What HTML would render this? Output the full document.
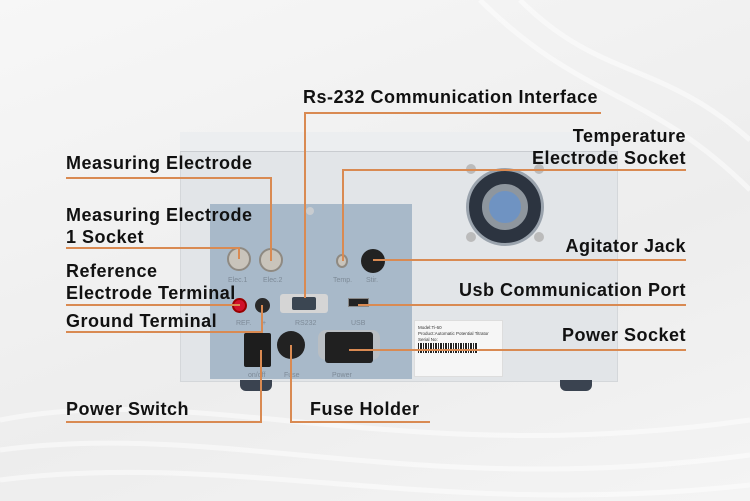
<!DOCTYPE html>
<html><head><meta charset="utf-8"><style>
body{margin:0;width:750px;height:501px;overflow:hidden;background:linear-gradient(160deg,#f7f7f7,#ededed 60%,#f4f4f4);font-family:"Liberation Sans",sans-serif;position:relative}
div{position:absolute;box-sizing:border-box}
.t{font-weight:bold;font-size:18px;letter-spacing:0.5px;color:#111;line-height:22px;white-space:nowrap}
.h{height:2px;background:#d98a52}
.v{width:2px;background:#d98a52}
.s{font-size:7px;color:#7d8a97}
</style></head><body>
<svg width="750" height="501" style="position:absolute;left:0;top:0" fill="none" stroke="#fff" stroke-width="5" opacity="0.5">
<path d="M0 420 C200 380 400 470 750 420"/><path d="M0 450 C220 420 420 500 750 455"/><path d="M0 480 C230 450 440 520 750 485"/>
<path d="M520 0 C600 80 660 60 750 140"/><path d="M480 0 C580 100 650 90 750 190"/>
</svg>
<!-- device -->
<div style="left:180px;top:132px;width:438px;height:250px;background:#e2e5e8;border:1px solid #d4d7da"></div>
<div style="left:180px;top:132px;width:438px;height:20px;background:#eceef0;border-bottom:1px solid #c9ccd0"></div>
<div style="left:240px;top:380px;width:32px;height:11px;background:#3a4350;border-radius:0 0 6px 6px"></div>
<div style="left:560px;top:380px;width:32px;height:11px;background:#3a4350;border-radius:0 0 6px 6px"></div>
<!-- fan -->
<div style="left:466px;top:168px;width:78px;height:78px;border-radius:50%;background:#2c3440;border:3px solid #9aa3ad"></div>
<div style="left:482px;top:184px;width:46px;height:46px;border-radius:50%;background:#6f93c2;border:7px solid #8e969e"></div>
<div style="left:466px;top:164px;width:10px;height:10px;border-radius:50%;background:#bbb"></div>
<div style="left:534px;top:164px;width:10px;height:10px;border-radius:50%;background:#bbb"></div>
<div style="left:466px;top:232px;width:10px;height:10px;border-radius:50%;background:#bbb"></div>
<div style="left:534px;top:232px;width:10px;height:10px;border-radius:50%;background:#bbb"></div>
<!-- panel -->
<div style="left:210px;top:204px;width:202px;height:175px;background:#a8b9c9"></div>
<div style="left:306px;top:207px;width:8px;height:8px;border-radius:50%;background:#c8ccd0"></div>
<div style="left:227px;top:247px;width:24px;height:24px;border-radius:50%;background:#c9c4bb;border:2px solid #8f8a82"></div>
<div style="left:259px;top:248px;width:24px;height:24px;border-radius:50%;background:#c9c4bb;border:2px solid #8f8a82"></div>
<div style="left:336px;top:254px;width:12px;height:14px;border-radius:50%;background:#c9c4bb;border:2px solid #8f8a82"></div>
<div style="left:361px;top:249px;width:24px;height:24px;border-radius:50%;background:#222"></div>
<div class="s" style="left:228px;top:277px">Elec.1</div><div class="s" style="left:263px;top:277px">Elec.2</div>
<div class="s" style="left:333px;top:277px">Temp.</div><div class="s" style="left:366px;top:277px">Stir.</div>
<div style="left:232px;top:298px;width:15px;height:15px;border-radius:50%;background:#d0102a;border:2px solid #900"></div>
<div style="left:255px;top:298px;width:15px;height:15px;border-radius:50%;background:#2a2a2a"></div>
<div style="left:280px;top:294px;width:48px;height:19px;background:#d5d5d5;border-radius:3px"></div>
<div style="left:292px;top:297px;width:24px;height:13px;background:#3b4652;border-radius:2px"></div>
<div style="left:348px;top:298px;width:21px;height:9px;background:#222;border:1px solid #888"></div>
<div class="s" style="left:236px;top:320px">REF.</div><div class="s" style="left:262px;top:320px">+</div>
<div class="s" style="left:295px;top:320px">RS232</div><div class="s" style="left:351px;top:320px">USB</div>
<div style="left:244px;top:333px;width:27px;height:34px;background:#1d1d1d;border-radius:2px"></div>
<div style="left:277px;top:331px;width:28px;height:28px;border-radius:50%;background:#222"></div>
<div style="left:318px;top:330px;width:62px;height:30px;background:#b9bec3;border-radius:8px"></div>
<div style="left:325px;top:332px;width:48px;height:31px;background:#202020;border-radius:3px"></div>
<div class="s" style="left:248px;top:372px">on/off</div><div class="s" style="left:284px;top:372px">Fuse</div><div class="s" style="left:332px;top:372px">Power</div>
<div style="left:414px;top:320px;width:89px;height:57px;background:#f6f6f6;border:1px solid #ddd;font-size:4.5px;line-height:6px;color:#333;padding:4px 3px">Model:Ti-60<br>Product:Automatic Potential Titrator<br>Serial No:<br><span style="display:inline-block;width:60px;height:10px;background:repeating-linear-gradient(90deg,#222 0 1px,#fff 1px 2px,#222 2px 4px,#fff 4px 5px)"></span></div>
<!-- lines -->
<div class="h" style="left:304px;top:112px;width:297px"></div><div class="v" style="left:304px;top:112px;height:186px"></div>
<div class="h" style="left:66px;top:177px;width:206px"></div><div class="v" style="left:270px;top:177px;height:84px"></div>
<div class="h" style="left:66px;top:247px;width:174px"></div><div class="v" style="left:238px;top:247px;height:12px"></div>
<div class="h" style="left:66px;top:304px;width:174px"></div>
<div class="h" style="left:66px;top:331px;width:197px"></div><div class="v" style="left:261px;top:305px;height:28px"></div>
<div class="h" style="left:66px;top:421px;width:196px"></div><div class="v" style="left:260px;top:350px;height:73px"></div>
<div class="h" style="left:290px;top:421px;width:140px"></div><div class="v" style="left:290px;top:345px;height:78px"></div>
<div class="h" style="left:342px;top:169px;width:344px"></div><div class="v" style="left:342px;top:169px;height:92px"></div>
<div class="h" style="left:373px;top:259px;width:313px"></div>
<div class="h" style="left:358px;top:304px;width:328px"></div>
<div class="h" style="left:349px;top:349px;width:337px"></div>
<!-- labels -->
<div class="t" style="left:303px;top:86px">Rs-232 Communication Interface</div>
<div class="t" style="left:66px;top:152px">Measuring Electrode</div>
<div class="t" style="left:66px;top:204px">Measuring Electrode<br>1 Socket</div>
<div class="t" style="left:66px;top:260px">Reference<br>Electrode Terminal</div>
<div class="t" style="left:66px;top:310px">Ground Terminal</div>
<div class="t" style="left:66px;top:398px">Power Switch</div>
<div class="t" style="left:310px;top:398px">Fuse Holder</div>
<div class="t" style="right:64px;top:125px;text-align:right">Temperature<br>Electrode Socket</div>
<div class="t" style="right:64px;top:235px">Agitator Jack</div>
<div class="t" style="right:64px;top:279px">Usb Communication Port</div>
<div class="t" style="right:64px;top:324px">Power Socket</div>
</body></html>
